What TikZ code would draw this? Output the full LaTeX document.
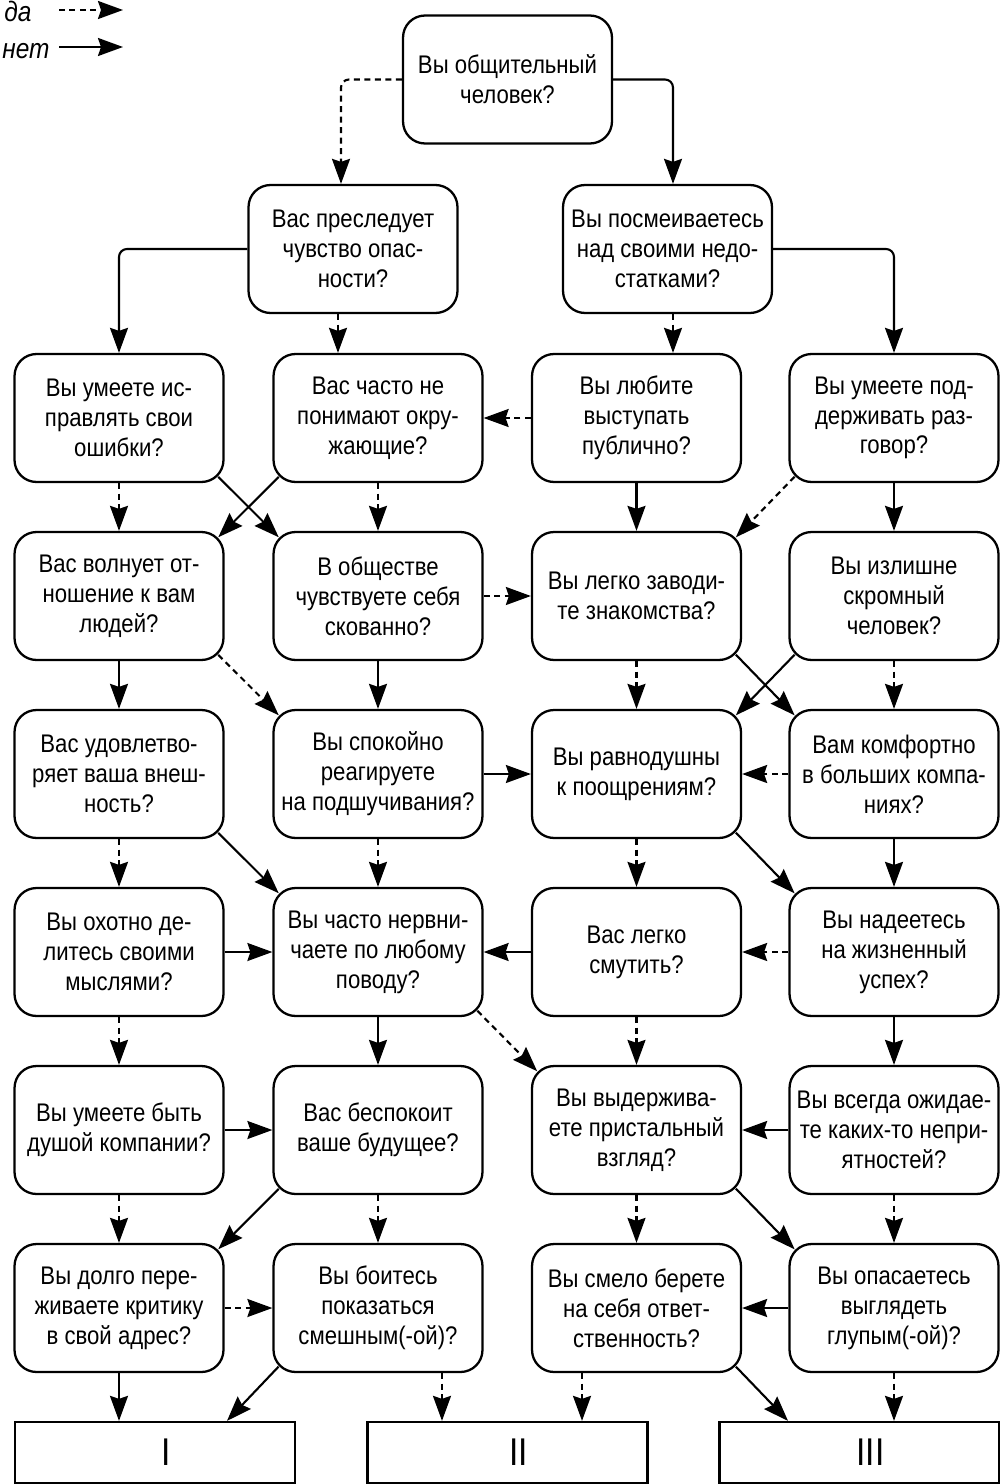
\documentclass[tikz,border=0pt]{standalone}
\usepackage{fontspec}
\setmainfont{Liberation Sans}[FakeStretch=0.87]
\usepackage{tikz}
\usetikzlibrary{arrows.meta, calc}
\newcommand{\qfont}{\fontsize{14.5pt}{17pt}\selectfont}
\newcommand{\rfont}{\fontsize{22pt}{22pt}\selectfont}
\tikzstyle{question} = [
    rectangle,
    rounded corners=0.44cm,
    minimum width=4.18cm,
    minimum height=2.56cm,
    inner sep=0pt,
    align=center,
    draw=black,
    line width=1.3pt,
    font=\qfont
]
\tikzstyle{result} = [
    rectangle,
    minimum width=5.6cm,
    minimum height=1.22cm,
    draw=black,
    line width=1.3pt,
    font=\rfont
]
\tikzstyle{legend} = [
    inner sep=0pt,
    font=\itshape\fontsize{16pt}{16pt}\selectfont
]
\tikzstyle{noarrow} = [
    line width=1.2pt,
    -{Stealth[length=0.5cm, width=0.36cm, inset=0.06cm]}
]
\tikzstyle{yesarrow} = [
    noarrow,
    dash pattern=on 0.12cm off 0.09cm
]
\tikzstyle{corner} = [
    shorten <=-0.18cm,
    shorten >=-0.18cm
]

\begin{document}
\begin{tikzpicture}[x=0.02cm, y=-0.02cm]
        \useasboundingbox (0,0) rectangle (1000,1484);

        % Legend
        \node[legend, anchor=base west] (yeslabel) at (4,21) {да};
        \node[legend, anchor=base west] (nolabel) at (2,58) {нет};
        \coordinate (yesA) at (59,10);
        \coordinate (yesB) at (123,10);
        \coordinate (noA) at (59,47);
        \coordinate (noB) at (123,47);
        \draw[yesarrow] (yesA) -- (yesB);
        \draw[noarrow] (noA) -- (noB);

        % First questions
        \node[question] (q0) at (507.5,79.5) {Вы общительный\\человек?};
        \node[question] (q2l) at (353,249) {Вас преследует\\чувство опас-\\ности?};
        \node[question] (q2r) at (667.5,249) {Вы посмеиваетесь\\над своими недо-\\статками?};

        % Row 3
        \node[question] (a3) at (119,418) {Вы умеете ис-\\правлять свои\\ошибки?};
        \node[question] (b3) at (378,418) {Вас часто не\\понимают окру-\\жающие?};
        \node[question] (c3) at (636.5,418) {Вы любите\\выступать\\публично?};
        \node[question] (d3) at (894,418) {Вы умеете под-\\держивать раз-\\говор?};

        % Row 4
        \node[question] (a4) at (119,596) {Вас волнует от-\\ношение к вам\\людей?};
        \node[question] (b4) at (378,596) {В обществе\\чувствуете себя\\скованно?};
        \node[question] (c4) at (636.5,596) {Вы легко заводи-\\те знакомства?};
        \node[question] (d4) at (894,596) {Вы излишне\\скромный\\человек?};

        % Row 5
        \node[question] (a5) at (119,774) {Вас удовлетво-\\ряет ваша внеш-\\ность?};
        \node[question] (b5) at (378,774) {Вы спокойно\\реагируете\\на подшучивания?};
        \node[question] (c5) at (636.5,774) {Вы равнодушны\\к поощрениям?};
        \node[question] (d5) at (894,774) {Вам комфортно\\в больших компа-\\ниях?};

        % Row 6
        \node[question] (a6) at (119,952) {Вы охотно де-\\литесь своими\\мыслями?};
        \node[question] (b6) at (378,952) {Вы часто нервни-\\чаете по любому\\поводу?};
        \node[question] (c6) at (636.5,952) {Вас легко\\смутить?};
        \node[question] (d6) at (894,952) {Вы надеетесь\\на жизненный\\успех?};

        % Row 7
        \node[question] (a7) at (119,1130) {Вы умеете быть\\душой компании?};
        \node[question] (b7) at (378,1130) {Вас беспокоит\\ваше будущее?};
        \node[question] (c7) at (636.5,1130) {Вы выдержива-\\ете пристальный\\взгляд?};
        \node[question] (d7) at (894,1130) {Вы всегда ожидае-\\те каких-то непри-\\ятностей?};

        % Row 8
        \node[question] (a8) at (119,1308) {Вы долго пере-\\живаете критику\\в свой адрес?};
        \node[question] (b8) at (378,1308) {Вы боитесь\\показаться\\смешным(-ой)?};
        \node[question] (c8) at (636.5,1308) {Вы смело берете\\на себя ответ-\\ственность?};
        \node[question] (d8) at (894,1308) {Вы опасаетесь\\выглядеть\\глупым(-ой)?};

        % Results
        \node[result] (res1) at (155,1452.5) {\hspace*{0.44cm}I};
        \node[result] (res2) at (507.5,1452.5) {\hspace*{0.44cm}II};
        \node[result] (res3) at (859.5,1452.5) {\hspace*{0.44cm}III};

        % Arrows from the first questions
        \draw[yesarrow, rounded corners=0.16cm] (q0.west) -| ([xshift=-0.24cm]q2l.north);
        \draw[noarrow, rounded corners=0.16cm] (q0.east) -| ([xshift=0.11cm]q2r.north);
        \draw[noarrow, rounded corners=0.16cm] (q2l.west) -| (a3.north);
        \draw[yesarrow] ([xshift=-0.3cm]q2l.south) -- ([xshift=-0.3cm]q2l.south |- b3.north);
        \draw[yesarrow] ([xshift=0.11cm]q2r.south) -- ([xshift=0.11cm]q2r.south |- c3.north);
        \draw[noarrow, rounded corners=0.16cm] (q2r.east) -| (d3.north);

        % Arrows from row 3
        \draw[yesarrow] (a3) -- (a4);
        \draw[noarrow, corner] (a3.south east) -- (b4.north west);
        \draw[noarrow, corner] (b3.south west) -- (a4.north east);
        \draw[yesarrow] (b3) -- (b4);
        \draw[yesarrow] (c3) -- (b3);
        \draw[noarrow] (c3) -- (c4);
        \draw[yesarrow, corner] (d3.south west) -- (c4.north east);
        \draw[noarrow] (d3) -- (d4);

        % Arrows from row 4
        \draw[noarrow] (a4) -- (a5);
        \draw[yesarrow, corner] (a4.south east) -- (b5.north west);
        \draw[noarrow] (b4) -- (b5);
        \draw[yesarrow] (b4) -- (c4);
        \draw[yesarrow] (c4) -- (c5);
        \draw[noarrow, corner] (c4.south east) -- (d5.north west);
        \draw[noarrow, corner] (d4.south west) -- (c5.north east);
        \draw[yesarrow] (d4) -- (d5);

        % Arrows from row 5
        \draw[yesarrow] (a5) -- (a6);
        \draw[noarrow, corner] (a5.south east) -- (b6.north west);
        \draw[yesarrow] (b5) -- (b6);
        \draw[noarrow] (b5) -- (c5);
        \draw[yesarrow] (c5) -- (c6);
        \draw[noarrow, corner] (c5.south east) -- (d6.north west);
        \draw[yesarrow] (d5) -- (c5);
        \draw[noarrow] (d5) -- (d6);

        % Arrows from row 6
        \draw[yesarrow] (a6) -- (a7);
        \draw[noarrow] (a6) -- (b6);
        \draw[noarrow] (b6) -- (b7);
        \draw[yesarrow, corner] (b6.south east) -- (c7.north west);
        \draw[noarrow] (c6) -- (b6);
        \draw[yesarrow] (c6) -- (c7);
        \draw[yesarrow] (d6) -- (c6);
        \draw[noarrow] (d6) -- (d7);

        % Arrows from row 7
        \draw[yesarrow] (a7) -- (a8);
        \draw[noarrow] (a7) -- (b7);
        \draw[noarrow, corner] (b7.south west) -- (a8.north east);
        \draw[yesarrow] (b7) -- (b8);
        \draw[yesarrow] (c7) -- (c8);
        \draw[noarrow, corner] (c7.south east) -- (d8.north west);
        \draw[noarrow] (d7) -- (c7);
        \draw[yesarrow] (d7) -- (d8);

        % Arrows to the results
        \draw[noarrow] (a8.south) -- (a8.south |- res1.north);
        \draw[yesarrow] (a8) -- (b8);
        \draw[noarrow, shorten <=-0.18cm] (b8.south west) -- ([xshift=1.44cm]res1.north);
        \draw[yesarrow] ([xshift=1.28cm]b8.south) -- ([xshift=1.28cm]b8.south |- res2.north);
        \draw[yesarrow] ([xshift=-1.09cm]c8.south) -- ([xshift=-1.09cm]c8.south |- res2.north);
        \draw[noarrow, shorten <=-0.18cm] (c8.south east) -- ([xshift=-1.43cm]res3.north);
        \draw[noarrow] (d8) -- (c8);
        \draw[yesarrow] (d8.south) -- (d8.south |- res3.north);
    \end{tikzpicture}
\end{document}
